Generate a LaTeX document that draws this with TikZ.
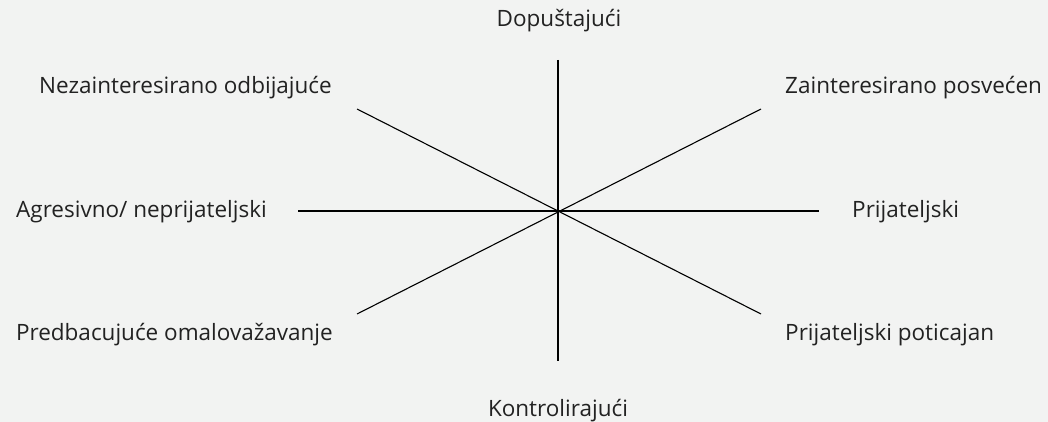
\documentclass[tikz,border=0pt]{standalone}
\usepackage{fontspec}
\setmainfont{Open Sans}
\definecolor{bg}{HTML}{F2F3F2}
\definecolor{txt}{HTML}{222222}
\begin{document}
\begin{tikzpicture}[x=1pt,y=-1pt,
  lbl/.style={font=\fontsize{22.5}{26}\selectfont, text=txt, inner sep=0pt},
  axis/.style={line width=1.1pt, black}]
\fill[bg] (0,0) rectangle (1048,422);
\useasboundingbox (0,0) rectangle (1048,422);
\coordinate (c) at (558,211);
\coordinate (t) at (558,60);
\coordinate (b) at (558,361);
\coordinate (l) at (298,211);
\coordinate (r) at (819,211);
\coordinate (ul) at (357,109);
\coordinate (ur) at (761,109);
\coordinate (ll) at (357,314);
\coordinate (lr) at (761,314);
\draw[axis] (t) -- (b);
\draw[axis] (l) -- (r);
\draw[axis] (ul) -- (lr);
\draw[axis] (ur) -- (ll);
\node[lbl, anchor=base] (n1) at (559,27) {Dopuštajući};
\node[lbl, anchor=base east] (n2) at (332,94) {Nezainteresirano odbijajuće};
\node[lbl, anchor=base west] (n3) at (785,94) {Zainteresirano posvećen};
\node[lbl, anchor=base east] (n4) at (267,217) {Agresivno/ neprijateljski};
\node[lbl, anchor=base west] (n5) at (852,217) {Prijateljski};
\node[lbl, anchor=base east] (n6) at (333,340) {Predbacujuće omalovažavanje};
\node[lbl, anchor=base west] (n7) at (785,340) {Prijateljski poticajan};
\node[lbl, anchor=base] (n8) at (558,416) {Kontrolirajući};
\end{tikzpicture}
\end{document}
